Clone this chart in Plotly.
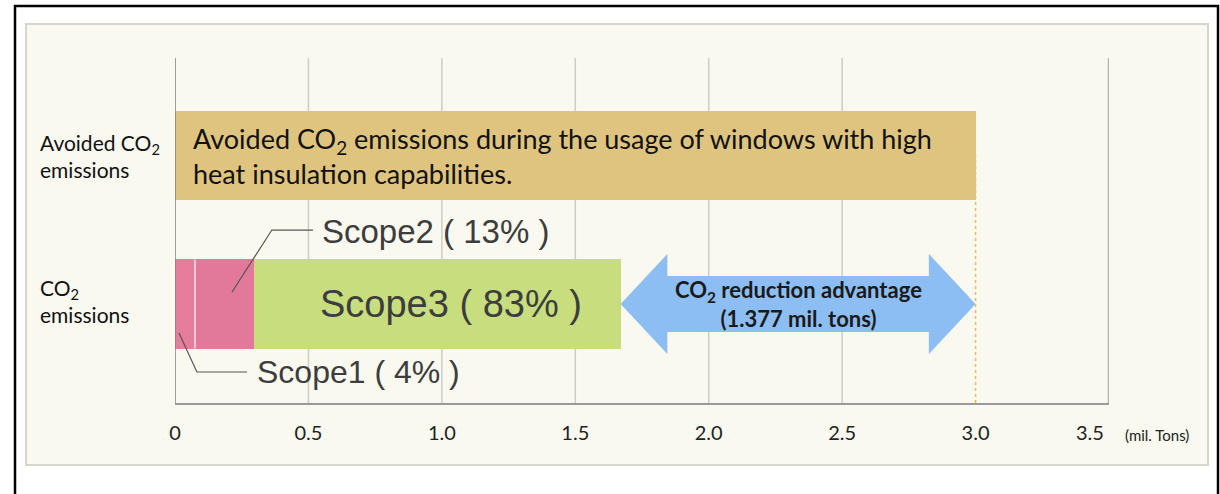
import plotly.graph_objects as go

# ---------------- data ----------------
categories = ["CO<sub>2</sub><br>emissions", "Avoided CO<sub>2</sub><br>emissions"]
scope_names = ["Scope1", "Scope2", "Scope3"]
scope_shares = ["4%", "13%", "83%"]
scope_values = [0.075, 0.22, 1.375]          # mil. tons
avoided_value = 3.0                           # mil. tons
avoided_text = "Avoided CO<sub>2</sub> emissions during the usage of windows with high<br>heat insulation capabilities."
advantage_text = "<b>CO<sub>2</sub> reduction advantage<br>(1.377 mil. tons)</b>"
tick_vals = [0, 0.5, 1.0, 1.5, 2.0, 2.5, 3.0, 3.5]
tick_text = ["0", "0.5", "1.0", "1.5", "2.0", "2.5", "3.0", "3.5"]
unit_label = "(mil. Tons)"

# ---------------- layout geometry (pixels) ----------------
W, H = 1220, 494
L, R, T, B = 175, 111, 58, 91
PW, PH = W - L - R, H - T - B
def px(x):  # pixel -> paper x
    return (x - L) / PW
def py(y):  # pixel -> paper y
    return (H - B - y) / PH

XMAX = 3.5
YMIN, YMAX = -0.6667, 1.6566
BAR_W = 0.6

scope_colors = ["#e47e9c", "#e2789a", "#c8de7e"]
gold = "#dfc47f"
blue = "#8dbef3"
tick_font = dict(family="Lato", size=20, color="#222222")

fig = go.Figure()

# emissions stacked bar (y = 0)
for name, val, col in zip(scope_names, scope_values, scope_colors):
    fig.add_trace(go.Bar(x=[val], y=[0], orientation="h", name=name,
                         marker=dict(color=col, line=dict(width=0)),
                         width=BAR_W, hoverinfo="x+name"))
# avoided bar (y = 1)
fig.add_trace(go.Bar(x=[avoided_value], y=[1], orientation="h", name="Avoided",
                     marker=dict(color=gold, line=dict(width=0)),
                     width=BAR_W, hoverinfo="x+name"))

shapes = []
# outer black frame (open at the bottom, extends past canvas)
shapes.append(dict(type="rect", xref="paper", yref="paper",
                   x0=px(15), x1=px(1218), y0=py(530), y1=py(6),
                   line=dict(color="#000000", width=2.5), fillcolor="#ffffff", layer="below"))
# inner beige box
shapes.append(dict(type="rect", xref="paper", yref="paper",
                   x0=px(26), x1=px(1208), y0=py(465), y1=py(24),
                   line=dict(color="#d6d6cc", width=2), fillcolor="#f9f9f0", layer="below"))
# gridlines
for v in tick_vals[1:-1]:
    if abs(v - avoided_value) < 1e-9:
        continue
    shapes.append(dict(type="line", xref="x", yref="paper", x0=v, x1=v, y0=0, y1=1,
                       line=dict(color="#cdcdc8", width=1.5), layer="below"))
# dotted marker at avoided value
shapes.append(dict(type="line", xref="x", yref="y", x0=avoided_value, x1=avoided_value,
                   y0=YMIN, y1=1, line=dict(color="#e9b865", width=1.5, dash="dot"), layer="below"))
# right edge line
shapes.append(dict(type="line", xref="x", yref="paper", x0=XMAX, x1=XMAX, y0=0, y1=1,
                   line=dict(color="#b3b3ad", width=2.5), layer="below"))
# left axis line
shapes.append(dict(type="line", xref="x", yref="paper", x0=0, x1=0, y0=0, y1=1,
                   line=dict(color="#7f7f7f", width=1.5), layer="above"))
# light divider between scope1 and scope2
shapes.append(dict(type="line", xref="x", yref="y", x0=scope_values[0], x1=scope_values[0],
                   y0=-BAR_W / 2, y1=BAR_W / 2, line=dict(color="#fbe3ea", width=1.5), layer="above"))

# double arrow between total emissions and avoided value
x0 = sum(scope_values)
x1 = avoided_value
hl, hh, sh = 0.175, 0.337, 0.189
path = (f"M {x0},0 L {x0+hl},{hh} L {x0+hl},{sh} L {x1-hl},{sh} L {x1-hl},{hh} "
        f"L {x1},0 L {x1-hl},{-hh} L {x1-hl},{-sh} L {x0+hl},{-sh} L {x0+hl},{-hh} Z")
shapes.append(dict(type="path", xref="x", yref="y", path=path,
                   fillcolor=blue, line=dict(width=0), layer="above"))

# leader lines for Scope1 / Scope2 labels
s1, s2 = scope_values[0], scope_values[1]
shapes.append(dict(type="path", xref="x", yref="y",
                   path=f"M {s1 + s2*0.63},0.081 L 0.363,0.498 L 0.517,0.498",
                   line=dict(color="#555555", width=1.2), layer="above"))
shapes.append(dict(type="path", xref="x", yref="y",
                   path=f"M {s1*0.2},-0.195 L 0.082,-0.458 L 0.27,-0.458",
                   line=dict(color="#555555", width=1.2), layer="above"))

annotations = []
# category labels on the left
for yv, cat in zip([0, 1], categories):
    annotations.append(dict(xref="paper", yref="y", x=px(38), y=yv, yshift=3 if yv == 0 else 0,
                            text=cat, showarrow=False, xanchor="left", align="left",
                            font=dict(family="Lato", size=21, color="#111111")))
# text inside avoided bar
annotations.append(dict(xref="x", yref="y", x=0, y=1, xshift=16, text=avoided_text,
                        showarrow=False, xanchor="left", align="left",
                        font=dict(family="Lato", size=27, color="#111111")))
# scope labels
label_font = "Liberation Sans"
annotations.append(dict(xref="x", yref="y", x=0.545, y=0.485,
                        text=f"{scope_names[1]} ( {scope_shares[1]} )", showarrow=False,
                        xanchor="left", font=dict(family=label_font, size=33, color="#3d3d3d")))
annotations.append(dict(xref="x", yref="y", x=(s1 + s2) + scope_values[2] / 2, xshift=14, y=0,
                        text=f"{scope_names[2]} ( {scope_shares[2]} )", showarrow=False,
                        xanchor="center", font=dict(family=label_font, size=38, color="#3d3d3d")))
annotations.append(dict(xref="x", yref="y", x=0.30, y=-0.458,
                        text=f"{scope_names[0]} ( {scope_shares[0]} )", showarrow=False,
                        xanchor="left", font=dict(family=label_font, size=32, color="#3d3d3d")))
# arrow text
annotations.append(dict(xref="x", yref="y", x=(x0 + x1) / 2, y=0, text=advantage_text,
                        showarrow=False, xanchor="center", align="center",
                        font=dict(family="Lato", size=22, color="#1a1a1a")))
# last tick label sits a little left of its gridline, as in the source
annotations.append(dict(xref="x", yref="paper", x=tick_vals[-1], y=py(432), xshift=-19,
                        text=tick_text[-1], showarrow=False, xanchor="center", yanchor="middle",
                        font=tick_font))
# unit label
annotations.append(dict(xref="paper", yref="paper", x=px(1157), y=py(435), text=unit_label,
                        showarrow=False, xanchor="center", yanchor="middle",
                        font=dict(family="Lato", size=15, color="#222222")))

tick_disp = tick_text[:-1] + [""]

fig.update_layout(
    width=W, height=H,
    margin=dict(l=L, r=R, t=T, b=B, pad=0),
    paper_bgcolor="#ffffff",
    plot_bgcolor="rgba(0,0,0,0)",
    barmode="stack",
    showlegend=False,
    shapes=shapes,
    annotations=annotations,
    xaxis=dict(range=[0, XMAX], tickvals=tick_vals, ticktext=tick_disp, showgrid=False,
               zeroline=False, showline=True, linecolor="#9a9a9a", linewidth=2,
               ticks="", ticklabelstandoff=11,
               tickfont=tick_font, fixedrange=True),
    yaxis=dict(range=[YMIN, YMAX], showticklabels=False, showgrid=False, zeroline=False,
               showline=False, ticks="", fixedrange=True),
)

fig.write_html("out.html", config={"displayModeBar": False},
               post_script="document.body.style.margin='0';document.body.style.overflow='hidden';")
